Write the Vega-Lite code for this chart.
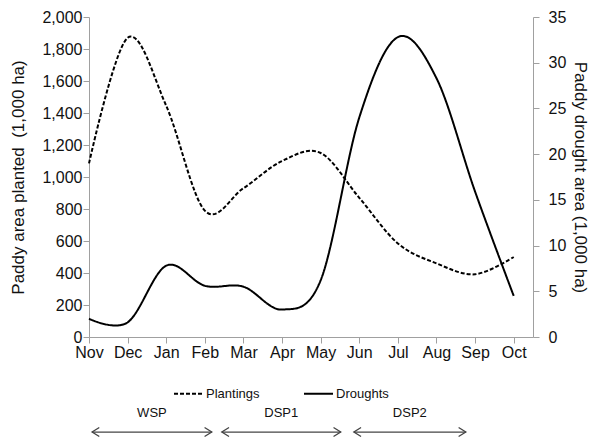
{
  "$schema": "https://vega.github.io/schema/vega-lite/v6.json",
  "width": 444,
  "height": 320,
  "autosize": {"type": "none"},
  "padding": {"left": 89, "top": 17, "right": 59, "bottom": 101},
  "background": "white",
  "config": {
    "view": {"stroke": null},
    "font": "Liberation Sans",
    "axis": {
      "grid": false,
      "domainColor": "#a0a0a0",
      "tickColor": "#a0a0a0",
      "tickSize": 6,
      "labelFont": "Liberation Sans",
      "labelFontSize": 16,
      "labelColor": "#111111",
      "titleFont": "Liberation Sans",
      "titleFontSize": 17,
      "titleFontWeight": "normal",
      "titleColor": "#111111"
    },
    "legend": {
      "labelFont": "Liberation Sans",
      "labelFontSize": 13,
      "labelColor": "#111111"
    }
  },
  "datasets": {
    "monthly": [
      {"month": "Nov", "idx": 0, "Plantings": 1085, "Droughts": 2.0},
      {"month": "Dec", "idx": 1, "Plantings": 1870, "Droughts": 1.6},
      {"month": "Jan", "idx": 2, "Plantings": 1445, "Droughts": 7.8},
      {"month": "Feb", "idx": 3, "Plantings": 790, "Droughts": 5.6},
      {"month": "Mar", "idx": 4, "Plantings": 930, "Droughts": 5.5},
      {"month": "Apr", "idx": 5, "Plantings": 1100, "Droughts": 3.0},
      {"month": "May", "idx": 6, "Plantings": 1150, "Droughts": 6.2},
      {"month": "Jun", "idx": 7, "Plantings": 870, "Droughts": 24.0},
      {"month": "Jul", "idx": 8, "Plantings": 585, "Droughts": 32.8},
      {"month": "Aug", "idx": 9, "Plantings": 460, "Droughts": 28.3},
      {"month": "Sep", "idx": 10, "Plantings": 392, "Droughts": 15.9},
      {"month": "Oct", "idx": 11, "Plantings": 500, "Droughts": 4.5}
    ],
    "seasons": [
      {"season": "WSP", "start": 0.08, "end": 3.18},
      {"season": "DSP1", "start": 3.44, "end": 6.52},
      {"season": "DSP2", "start": 6.86, "end": 9.76}
    ]
  },
  "layer": [
    {
      "data": {"name": "monthly"},
      "mark": {"type": "line", "interpolate": "cardinal", "tension": 0, "strokeWidth": 2, "color": "#000000"},
      "encoding": {
        "x": {
          "field": "idx", "type": "quantitative",
          "scale": {"domain": [0, 11.5], "nice": false, "zero": false},
          "axis": {
            "title": null,
            "values": [0, 1, 2, 3, 4, 5, 6, 7, 8, 9, 10, 11],
            "labelExpr": "['Nov','Dec','Jan','Feb','Mar','Apr','May','Jun','Jul','Aug','Sep','Oct'][datum.value]",
            "labelPadding": 1,
            "labelFlush": false,
            "labelOverlap": false
          }
        },
        "y": {
          "field": "Plantings", "type": "quantitative",
          "scale": {"domain": [0, 2000], "nice": false},
          "axis": {
            "orient": "left",
            "title": "Paddy area planted \u00a0(1,000 ha)",
            "values": [0, 200, 400, 600, 800, 1000, 1200, 1400, 1600, 1800, 2000],
            "format": ",.0f",
            "labelPadding": 1,
            "titlePadding": 14
          }
        },
        "strokeDash": {
          "datum": "Plantings",
          "scale": {"domain": ["Plantings", "Droughts"], "range": [[4, 2], [1, 0]]},
          "legend": {
            "title": null,
            "orient": "none",
            "legendX": 84,
            "legendY": 361,
            "direction": "horizontal",
            "symbolType": "stroke",
            "symbolSize": 841,
            "symbolStrokeWidth": 2,
            "symbolStrokeColor": "#000000",
            "labelOffset": 2,
            "columnPadding": 40,
            "padding": 0
          }
        }
      }
    },
    {
      "data": {"name": "monthly"},
      "mark": {"type": "line", "interpolate": "cardinal", "tension": 0, "strokeWidth": 2, "color": "#000000"},
      "encoding": {
        "x": {"field": "idx", "type": "quantitative"},
        "y": {
          "field": "Droughts", "type": "quantitative",
          "scale": {"domain": [0, 35], "nice": false},
          "axis": {
            "orient": "right",
            "title": "Paddy drought area (1,000 ha)",
            "values": [0, 5, 10, 15, 20, 25, 30, 35],
            "labelPadding": 9,
            "titlePadding": 5
          }
        },
        "strokeDash": {"datum": "Droughts"}
      }
    },
    {
      "data": {"name": "seasons"},
      "transform": [{"calculate": "(datum.start + datum.end) / 2", "as": "mid"}],
      "layer": [
        {
          "mark": {"type": "rule", "color": "#444444", "strokeWidth": 1.3},
          "encoding": {
            "x": {"field": "start", "type": "quantitative"},
            "x2": {"field": "end"},
            "y": {"datum": -0.297, "type": "quantitative", "scale": {"domain": [0, 1], "nice": false, "zero": false}, "axis": null}
          }
        },
        {
          "mark": {"type": "point", "shape": "M 1.6 -1 L 0 0 L 1.6 1", "size": 81, "filled": false, "opacity": 1, "color": "#444444", "strokeWidth": 1.3},
          "encoding": {
            "x": {"field": "start", "type": "quantitative"},
            "y": {"datum": -0.297, "type": "quantitative"}
          }
        },
        {
          "mark": {"type": "point", "shape": "M -1.6 -1 L 0 0 L -1.6 1", "size": 81, "filled": false, "opacity": 1, "color": "#444444", "strokeWidth": 1.3},
          "encoding": {
            "x": {"field": "end", "type": "quantitative"},
            "y": {"datum": -0.297, "type": "quantitative"}
          }
        },
        {
          "mark": {"type": "text", "fontSize": 13, "font": "Liberation Sans", "color": "#111111", "baseline": "middle", "align": "center"},
          "encoding": {
            "x": {"field": "mid", "type": "quantitative"},
            "y": {"datum": -0.236, "type": "quantitative"},
            "text": {"field": "season"}
          }
        }
      ]
    }
  ],
  "resolve": {"scale": {"y": "independent"}}
}
